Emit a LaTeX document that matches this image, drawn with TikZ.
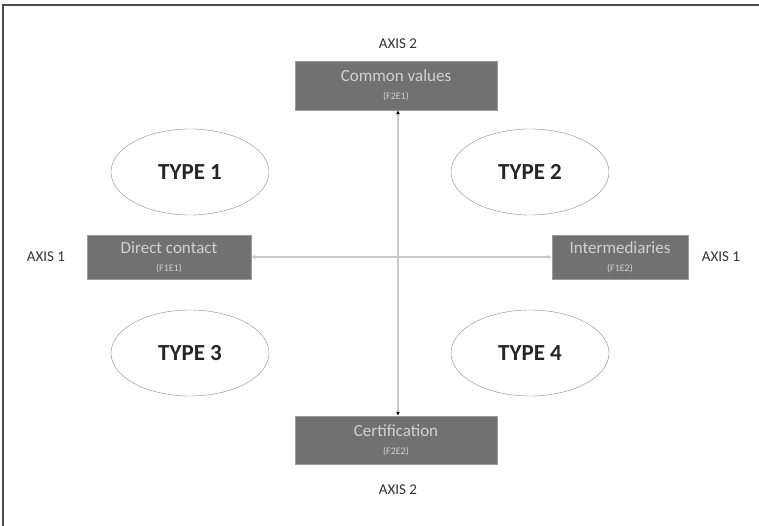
\documentclass[tikz,border=0pt]{standalone}
\usepackage{fontspec}
\setmainfont{Carlito}
\usetikzlibrary{shapes.geometric, arrows.meta, positioning}
\definecolor{boxgray}{HTML}{717171}
\definecolor{linegray}{HTML}{C8C8C8}
\tikzset{
    axisbox/.style={rectangle, draw=boxgray!70, fill=boxgray, text=white!82!black, align=center, inner sep=0pt, font=\fontsize{17}{19}\selectfont},
    typeoval/.style={ellipse, draw=black!45, fill=white, minimum width=158pt, minimum height=86pt, font=\fontsize{23}{26}\selectfont\bfseries, text=black!85},
    axislabel/.style={font=\fontsize{15}{17}\selectfont, text=black!80},
    axisline/.style={linegray, line width=1.2pt, {Latex[length=4pt,width=4pt,black]}-{Latex[length=4pt,width=4pt,black]}}
}
\newcommand{\refcode}[1]{\\[-1pt]{\fontsize{10}{11}\selectfont (#1)}}

\begin{document}
\begin{tikzpicture}[x=1pt, y=-1pt]
        \useasboundingbox (0,0) rectangle (759,526);
        % Frame
        \draw[black!70, line width=1.2pt] (3,526) -- (3,5) -- (759,5);

        % Entities
        \node (values) [axisbox, minimum width=202pt, minimum height=49pt] at (396,85.5) {Common values\refcode{F2E1}};
        \node (cert) [axisbox, minimum width=202pt, minimum height=48pt] at (396,440) {Certification\refcode{F2E2}};
        \node (direct) [axisbox, minimum width=164pt, minimum height=44pt] at (169,257) {Direct contact\refcode{F1E1}};
        \node (inter) [axisbox, minimum width=136pt, minimum height=44pt] at (620,257) {Intermediaries\refcode{F1E2}};

        \node (type1) [typeoval] at (190,172) {TYPE 1};
        \node (type2) [typeoval] at (530,172) {TYPE 2};
        \node (type3) [typeoval] at (190,353) {TYPE 3};
        \node (type4) [typeoval] at (530,353) {TYPE 4};

        % Labels
        \node (axis2top) [axislabel] at (398,44) {AXIS 2};
        \node (axis2bot) [axislabel] at (398,490) {AXIS 2};
        \node (axis1left) [axislabel] at (46,257) {AXIS 1};
        \node (axis1right) [axislabel] at (721,257) {AXIS 1};

        % Flows
        \draw[axisline] (values.south -| 398,0) -- (cert.north -| 398,0);
        \draw[linegray, line width=1.6pt, {Latex[length=4pt,width=5pt]}-{Latex[length=4pt,width=5pt]}] (direct.east) -- (inter.west);
    \end{tikzpicture}
\end{document}
